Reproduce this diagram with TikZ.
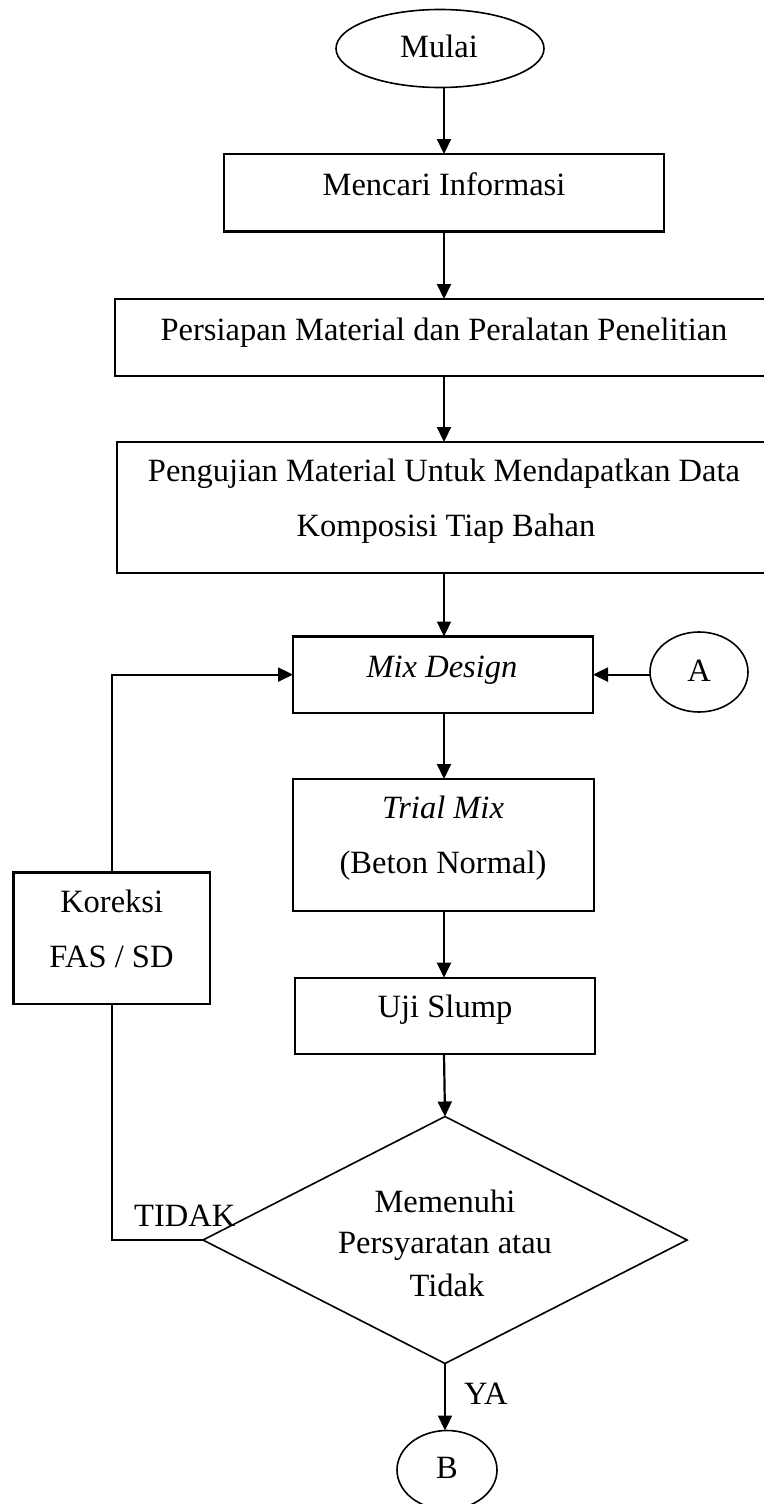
\documentclass[tikz,border=0pt]{standalone}
\usepackage{fontspec}
\setmainfont{Liberation Serif}
\usetikzlibrary{arrows.meta,shapes.geometric}
\begin{document}
\begin{tikzpicture}[x=1pt,y=-1pt,
  box/.style={draw, line width=2.1pt, inner sep=0pt, outer sep=0pt},
  oval/.style={draw, ellipse, line width=1.6pt, inner sep=0pt, outer sep=0pt},
  txt/.style={anchor=base, inner sep=0pt, font=\fontsize{32.5}{38}\selectfont},
  conn/.style={line width=2.2pt, -{Triangle[length=15pt,width=14pt]}},
  plain/.style={line width=2pt}
]
\useasboundingbox (0,0) rectangle (763,1504);
\coordinate (col) at (444,0);

% shapes
\node[oval, minimum width=208pt, minimum height=78pt] (start) at (440,48.5) {};
\node[box, minimum width=440pt, minimum height=77.5pt] (info) at (444,192.75) {};
\node[box, minimum width=660pt, minimum height=77pt] (prep) at (445,337.5) {};
\node[box, minimum width=658pt, minimum height=131pt] (test) at (446,507.5) {};
\node[box, minimum width=300pt, minimum height=76.2pt] (mix) at (443,674.6) {};
\node[oval, minimum width=98pt, minimum height=80pt] (A) at (699,672) {};
\node[box, minimum width=301pt, minimum height=131.7pt] (trial) at (443.5,844.85) {};
\node[box, minimum width=196.5pt, minimum height=131.5pt] (kor) at (111.75,938.25) {};
\node[box, minimum width=300pt, minimum height=76.3pt] (uji) at (445,1015.85) {};
\node[draw, diamond, line width=1.6pt, inner sep=0pt, outer sep=0pt, aspect=1.95,
      minimum width=484pt, minimum height=247pt] (dec) at (445,1240) {};
\node[oval, minimum width=100pt, minimum height=79pt] (B) at (447,1470) {};

% texts
\node[txt] (tstart) at (439,57.4) {Mulai};
\node[txt] (tinfo) at (444,195) {Mencari Informasi};
\node[txt] (tprep) at (444,340) {Persiapan Material dan Peralatan Penelitian};
\node[txt] (ttest1) at (444,481.4) {Pengujian Material Untuk Mendapatkan Data};
\node[txt] (ttest2) at (446,536.6) {Komposisi Tiap Bahan};
\node[txt] (tmix) at (442,677) {\textit{Mix Design}};
\node[txt] (tA) at (699,681) {A};
\node[txt] (ttrial1) at (443,818) {\textit{Trial Mix}};
\node[txt] (ttrial2) at (443,873) {(Beton Normal)};
\node[txt] (tkor1) at (111.7,912.7) {Koreksi};
\node[txt] (tkor2) at (111.5,967.7) {FAS / SD};
\node[txt] (tuji) at (445,1017.7) {Uji Slump};
\node[txt] (tdec1) at (445,1212.7) {Memenuhi};
\node[txt] (tdec2) at (445,1253.3) {Persyaratan atau};
\node[txt] (tdec3) at (447,1296.7) {Tidak};
\node[txt, anchor=base west] (ttidak) at (134,1226.7) {TIDAK};
\node[txt, anchor=base west] (tya) at (464,1404) {YA};
\node[txt] (tB) at (447,1478) {B};

% connectors
\draw[conn] (col |- start.south) -- (col |- info.north);
\draw[conn] (col |- info.south) -- (col |- prep.north);
\draw[conn] (col |- prep.south) -- (col |- test.north);
\draw[conn] (col |- test.south) -- (col |- mix.north);
\draw[conn] (col |- mix.south) -- (col |- trial.north);
\draw[conn] (col |- trial.south) -- (col |- uji.north);
\draw[conn] (col |- uji.south) -- (dec.north);
\draw[conn] (dec.south) -- (dec.south |- B.north);
\draw[conn] (A.west |- mix.east) -- (mix.east);
\draw[plain] (dec.west) -| (kor.south);
\draw[conn] (kor.north) |- (mix.west);
\end{tikzpicture}
\end{document}
